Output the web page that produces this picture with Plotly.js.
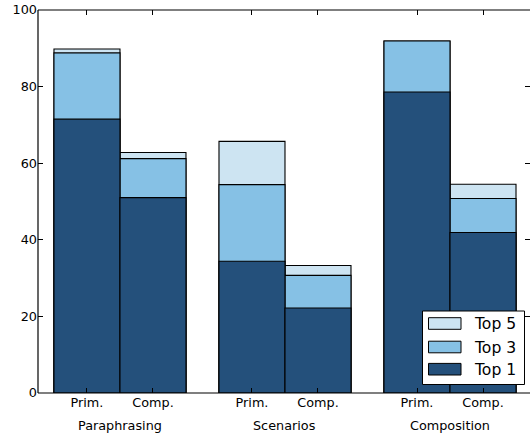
<!DOCTYPE html>
<html>
<head>
<meta charset="utf-8">
<script src="https://cdn.plot.ly/plotly-3.0.1.min.js"></script>
<style>html,body{margin:0;padding:0;background:#fff;}#chart{width:530px;height:436px;}</style>
</head>
<body>
<div id="chart"></div>
<script>
// Category positions (group / method)
const groups = ["Paraphrasing", "Scenarios", "Composition"];
const methods = ["Prim.", "Comp.", "Prim.", "Comp.", "Prim.", "Comp."];
const positions = [0, 1, 2.5, 3.5, 5, 6];
const groupCenters = [0.5, 3, 5.5];

// Cumulative accuracy (%)
const top1 = [71.5, 51.0, 34.4, 22.2, 78.6, 41.9];
const top3 = [88.8, 61.2, 54.4, 30.7, 91.9, 50.8];
const top5 = [89.8, 62.8, 65.7, 33.3, 91.9, 54.5];

const yTicks = [0, 20, 40, 60, 80, 100];
const seriesNames = ["Top 5", "Top 3", "Top 1"];

const colors = {top5: "#cde4f2", top3: "#86c1e5", top1: "#24507b"};
const seriesColors = [colors.top5, colors.top3, colors.top1];

function barTrace(name, vals, color) {
  return {
    type: "bar", name: name, x: positions, y: vals, width: 1,
    marker: {color: color, line: {color: "#000", width: 1.1}},
    hoverinfo: "y", showlegend: false
  };
}

const data = [
  barTrace(seriesNames[0], top5, colors.top5),
  barTrace(seriesNames[1], top3, colors.top3),
  barTrace(seriesNames[2], top1, colors.top1)
];

const font = {family: "DejaVu Sans, sans-serif", size: 12.8, color: "#000"};

// plot-area geometry in pixels (for legend placement)
const W = 530, H = 436, mL = 38, mR = 0, mT = 10, mB = 43;
const pw = W - mL - mR, ph = H - mT - mB;
const px = v => (v - mL) / pw;
const py = v => (H - mB - v) / ph;

const shapes = [
  {type: "line", xref: "paper", yref: "paper", x0: 0, x1: 0, y0: 0, y1: 1, line: {color: "#000", width: 1.2}, layer: "above"},
  {type: "line", xref: "paper", yref: "paper", x0: 0, x1: 1, y0: 0, y1: 0, line: {color: "#000", width: 1.2}, layer: "above"},
  {type: "line", xref: "paper", yref: "paper", x0: 0, x1: 1, y0: 1, y1: 1, line: {color: "#000", width: 1.2}, layer: "above"},
  // legend box
  {type: "rect", xref: "paper", yref: "paper", x0: px(422.5), x1: px(524.5), y0: py(384.5), y1: py(311), fillcolor: "#fff", line: {color: "#000", width: 1}, layer: "above"}
];
const legendRows = [323.5, 347, 369.2];
const annotations = groups.map((g, i) => ({
  text: g, x: groupCenters[i], xref: "x", y: -0.085, yref: "paper",
  yanchor: "middle", xanchor: "center", showarrow: false, font: font
}));
seriesNames.forEach((n, i) => {
  const cy = legendRows[i];
  shapes.push({type: "rect", xref: "paper", yref: "paper", x0: px(428.5), x1: px(461), y0: py(cy + 5.8), y1: py(cy - 5.8),
    fillcolor: seriesColors[i], line: {color: "#000", width: 1}, layer: "above"});
  annotations.push({text: n, xref: "paper", yref: "paper", x: px(472), y: py(cy + 0.5), xanchor: "left", yanchor: "middle",
    showarrow: false, font: {family: "DejaVu Sans, sans-serif", size: 15.6, color: "#000"}});
});

const layout = {
  width: W, height: H,
  margin: {l: mL, r: mR, t: mT, b: mB, pad: 0},
  paper_bgcolor: "#fff", plot_bgcolor: "#fff",
  font: font,
  barmode: "overlay",
  showlegend: false,
  xaxis: {
    range: [-0.742, 6.712],
    tickvals: positions, ticktext: methods,
    ticks: "inside", ticklen: 5, tickwidth: 1, tickcolor: "#000",
    mirror: "ticks", showline: false, showgrid: false, zeroline: false,
    tickfont: font, fixedrange: true
  },
  yaxis: {
    range: [0, 100],
    tickvals: yTicks,
    ticks: "inside", ticklen: 5, tickwidth: 1, tickcolor: "#000",
    mirror: "ticks", showline: false, showgrid: false, zeroline: false,
    tickfont: font, fixedrange: true
  },
  shapes: shapes,
  annotations: annotations
};

Plotly.newPlot("chart", data, layout, {displayModeBar: false, staticPlot: true});
</script>
</body>
</html>
